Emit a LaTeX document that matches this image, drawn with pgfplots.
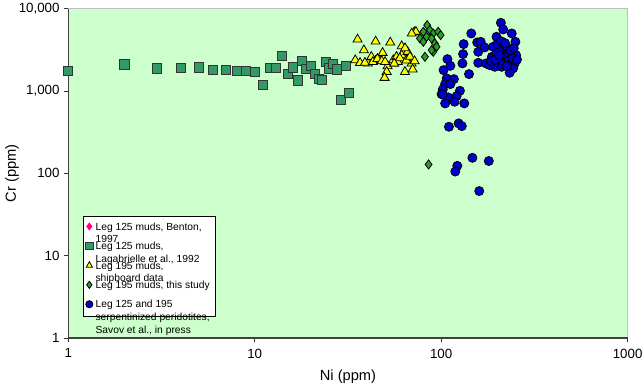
\documentclass[border=0pt]{standalone}
\usepackage{pgfplots}
\pgfplotsset{compat=1.18}
\usepackage{fontspec}
\setmainfont{Liberation Sans}
\definecolor{bg}{RGB}{204,255,204}
\definecolor{sq}{RGB}{51,153,102}
\definecolor{tri}{RGB}{255,255,0}
\definecolor{dia}{RGB}{40,160,40}
\definecolor{cir}{RGB}{0,0,204}
\definecolor{pk}{RGB}{255,0,128}
\begin{document}
\begin{tikzpicture}
\path[use as bounding box] (0,0) rectangle (483pt,290.25pt);
\begin{axis}[
 at={(51.2pt,36.75pt)}, anchor=south west,
 scale only axis, width=419.55pt, height=247.1pt,
 xmode=log, ymode=log, xmin=1, xmax=1000, ymin=1, ymax=10000,
 xtick={1,10,100,1000}, xticklabels={1,10,100,1000},
 ytick={1,10,100,1000,10000}, yticklabels={1,10,100,{1,000},{10,000}},
 xminorticks=false, yminorticks=false,
 tick align=outside, xtick pos=bottom, ytick pos=left,
 major tick length=3pt,
 tick style={black!80, line width=0.6pt},
 axis line style={draw=none},
 axis background/.style={fill=bg},
 ticklabel style={font=\fontsize{10}{11}\selectfont},
 xticklabel style={yshift=-1.5pt},
 /pgf/number format/assume math mode=true,
 xlabel={Ni (ppm)}, ylabel={Cr (ppm)},
 label style={font=\fontsize{11}{13}\selectfont},
 xlabel style={at={(axis description cs:0.5,-0.1184)}, anchor=center},
 ylabel style={at={(axis description cs:-0.1006,0.5)}, anchor=center},
 clip=false,
 legend style={at={(0.026,0.064)}, anchor=south west, draw=black, fill=white,
   font=\fontsize{7.7}{9.4}\selectfont, cells={anchor=base west, text depth=},
   row sep=3.5pt, inner xsep=2pt, inner ysep=3pt},
 legend image code/.code={\draw[#1] plot coordinates {(0cm,2.8pt)};},
 legend image post style={mark size=2.7pt},
]
\draw[black!25] (rel axis cs:0,1) -- (rel axis cs:1,1) -- (rel axis cs:1,0);
\draw[black!75, line width=0.8pt] (rel axis cs:0,1) -- (rel axis cs:0,0) -- (rel axis cs:1,0);

\addlegendimage{only marks, mark=diamond*, mark options={draw=pk, fill=pk}}
\addlegendentry{\vtop{\hbox{Leg 125 muds, Benton,}\hbox{1997}}}

\addplot[only marks, mark=square*, mark size=3.4pt, mark options={draw=black!80, fill=sq, line width=0.6pt}] coordinates {
(1,1754) (2,2097) (3,1876) (4,1891) (5,1928) (6,1788) (7,1788) (8,1740) (9,1740) (10,1692)
(11,1186) (12,1891) (13,1891) (14,2668) (15,1600) (16,1928) (17,1341) (18,2318) (18.8,1840) (20,2017)
(21,1614) (22,1390) (23,1352) (24,2237) (25,1876) (26.4,2115) (27.7,1823) (28.9,788) (30.7,2017) (31.9,948)
};
\addlegendentry{\vtop{\hbox{Leg 125 muds,}\hbox{Lagabrielle et al., 1992}}}

\addplot[only marks, mark=triangle*, mark size=3.9pt, mark options={draw=black, fill=tri, line width=0.6pt}] coordinates {
(35.6,4217) (44.5,3989) (53.3,3880) (61.4,3497) (71.7,5173) (73.2,5220) (69.5,4982) (38.5,3127)
(34.6,2364) (36.7,2193) (40.4,2157) (42.2,2595) (44.5,2318) (46.9,2364) (48.5,2903) (51.6,2000)
(51,1706) (49.7,1443) (55.3,2364) (57.6,2595) (61.4,2719) (63.9,1706) (66,2985) (69.4,2157)
(70.3,1823) (39,2200) (43,2250) (45.5,2450) (48,2300) (58.5,2250) (60,2500) (65,2350) (68,2600)
(72,2300) (56,2150) (50,2250) (64,3300)
};
\addlegendentry{\vtop{\hbox{Leg 195 muds,}\hbox{shipboard data}}}

\addplot[only marks, mark=diamond*, mark size=3.4pt, mark options={draw=black, fill=dia, line width=0.6pt}] coordinates {
(84.1,6290) (80.2,5220) (86.9,5470) (90.6,4982) (96.3,5220) (99.3,4756) (76.9,4336) (83.5,4537)
(88.8,4336) (80.2,3945) (92.5,3770) (94.5,3433) (90.6,2985) (81.8,2595) (88.8,3127) (85.6,128)
};
\addlegendentry{Leg 195 muds, this study}

\addplot[only marks, mark=*, mark size=3.4pt, mark options={draw=black, fill=cir, line width=0.6pt}] coordinates {
(209,6710) (215,5575) (145,4982) (132,3700) (131,2798) (130,2157) (141,1600) (108,2431) (112,2017)
(103,1788) (107,1418) (117,1390) (105,1210) (112,1210) (102,1042) (126,1003) (100.5,915) (109,834)
(121,865) (105,705) (118,738) (133,705) (156,3880) (163,3945) (158,2985) (171,3373) (158,2193)
(174,2157) (190,3433) (198,4537) (239,4982) (250,3945) (252,2719) (248,2157) (243,1876) (233,1660)
(187,2595) (198,2851) (206,3127) (215,2595) (224,3433) (202,2256) (220,2157) (229,2364) (194,1963)
(211,1963) (182,2057) (101.7,904) (110,367) (124,403) (129,374) (147,154) (180,141) (122,123)
(119,105) (160,60.8) (200,3700) (210,4000) (220,3800) (230,2900) (240,2500) (235,3100) (185,2300)
(195,2400) (205,2700) (215,2100) (225,2000) (245,3300) (255,2400)
};
\addlegendentry{\vtop{\hbox{Leg 125 and 195}\hbox{serpentinized peridotites,}\hbox{Savov et al., in press}}}
\end{axis}
\end{tikzpicture}
\end{document}
